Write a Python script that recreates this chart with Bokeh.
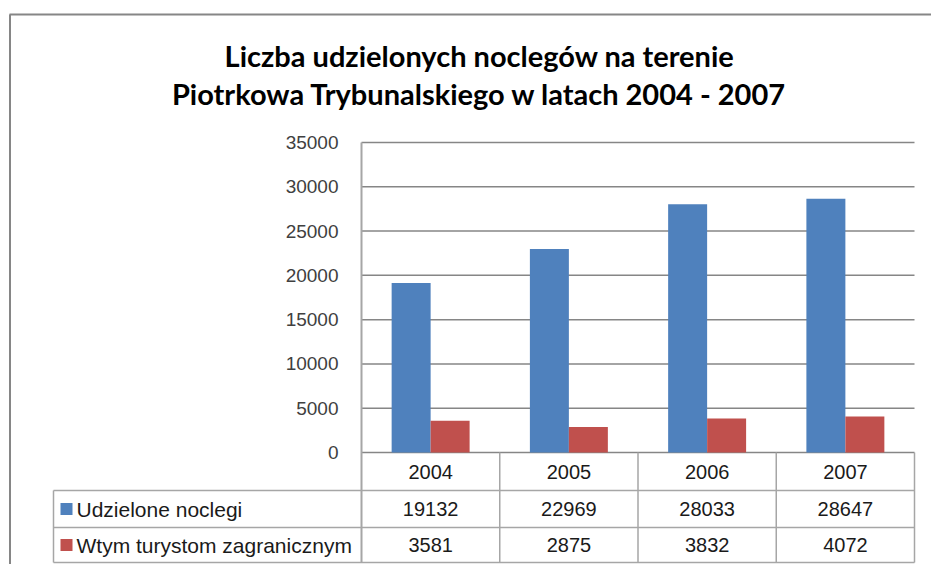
from bokeh.plotting import figure
from bokeh.models import Range1d
from bokeh.core.properties import value
from bokeh.embed import file_html
from bokeh.resources import INLINE

# ---- data ----
years = ["2004", "2005", "2006", "2007"]
series_names = ["Udzielone noclegi", "Wtym turystom zagranicznym"]
noclegi = [19132, 22969, 28033, 28647]
zagraniczni = [3581, 2875, 3832, 4072]
y_ticks = [0, 5000, 10000, 15000, 20000, 25000, 30000, 35000]
title_lines = ["Liczba udzielonych noclegów na terenie",
               "Piotrkowa Trybunalskiego w latach 2004 - 2007"]
colors = ["#4f81bd", "#c0504d"]

# ---- layout (picture pixels) ----
W, H = 931, 564
OX, OY = 0, 0
PLOT_L, PLOT_R = 361, 914
PLOT_T, PLOT_B = 142, 452
Y_MAX = y_ticks[-1]
ROWS_PX = [452, 490, 527, 562]
TABLE_L = 53

n = len(years)
XS = (PLOT_R - PLOT_L) / n
YS = Y_MAX / (PLOT_B - PLOT_T)


def dx(px):
    return -0.5 + (px - PLOT_L) / XS


def dy(py):
    return (PLOT_B - py) * YS


p = figure(width=W, height=H,
           x_range=Range1d(dx(OX), dx(OX + W)),
           y_range=Range1d(dy(OY + H), dy(OY)),
           min_border=0, x_axis_location=None, y_axis_location=None,
           toolbar_location=None, output_backend="svg",
           outline_line_color=None,
           background_fill_color="white", border_fill_color="white")
for g in p.grid:
    g.visible = False

GRID = "#868686"
TBL = "#a6a6a6"
NUM_FONT = value("Liberation Sans")
NUM_SIZE = "20px"

# outer chart border
p.segment(x0=[dx(9.5)], y0=[dy(14)], x1=[dx(9.5)], y1=[dy(OY + H)],
          line_color=GRID, line_width=2)
p.segment(x0=[dx(9)], y0=[dy(14)], x1=[dx(OX + W)], y1=[dy(14)],
          line_color=GRID, line_width=2)

# title
for i, t in enumerate(title_lines):
    p.text(x=[dx(479)], y=[dy(55 + 37.5 * i)], text=[t],
           text_font=value("Lato"), text_font_style="bold",
           text_font_size="29px", text_color="#000000",
           text_align="center", text_baseline="middle")

# gridlines
p.segment(x0=[-0.5] * len(y_ticks), x1=[n - 0.5] * len(y_ticks),
          y0=y_ticks, y1=y_ticks, line_color=GRID, line_width=1.5)

# tick labels
p.text(x=[-0.5] * len(y_ticks), y=y_ticks, text=[str(t) for t in y_ticks],
       x_offset=-23, text_align="right", text_baseline="middle",
       text_font=NUM_FONT, text_font_size="19px", text_color="#404040")

# bars
BW = 0.282
xs = list(range(n))
p.vbar(x=[i - BW / 2 for i in xs], top=noclegi, width=BW, bottom=0,
       fill_color=colors[0], line_color=None)
p.vbar(x=[i + BW / 2 for i in xs], top=zagraniczni, width=BW, bottom=0,
       fill_color=colors[1], line_color=None)

# data table
y_rows = [dy(r) for r in ROWS_PX]
p.segment(x0=[-0.5], y0=[Y_MAX], x1=[-0.5], y1=[y_rows[-1]],
          line_color=TBL, line_width=2)
p.segment(x0=[i + 0.5 for i in xs], y0=[y_rows[0]] * n,
          x1=[i + 0.5 for i in xs], y1=[y_rows[-1]] * n,
          line_color=TBL, line_width=1.5)
p.segment(x0=[dx(TABLE_L)], y0=[y_rows[1]], x1=[dx(TABLE_L)], y1=[y_rows[-1]],
          line_color=TBL, line_width=1.5)
p.segment(x0=[dx(TABLE_L)] * 3, x1=[n - 0.5] * 3, y0=y_rows[1:], y1=y_rows[1:],
          line_color=TBL, line_width=1.5)

mid = [(y_rows[k] + y_rows[k + 1]) / 2 for k in range(3)]
p.text(x=xs, y=[mid[0]] * n, text=years, text_align="center",
       text_baseline="middle", text_font=NUM_FONT, text_font_size=NUM_SIZE,
       text_color="#1a1a1a")
for k, vals in enumerate([noclegi, zagraniczni]):
    p.text(x=xs, y=[mid[k + 1]] * n, text=[str(v) for v in vals],
           text_align="center", text_baseline="middle", text_font=NUM_FONT,
           text_font_size=NUM_SIZE, text_color="#1a1a1a")
    p.scatter(x=[dx(66)], y=[mid[k + 1]], marker="square", size=12,
              fill_color=colors[k], line_color=None)
    p.text(x=[dx(76)], y=[mid[k + 1]], text=[series_names[k]],
           text_align="left", text_baseline="middle", text_font=NUM_FONT,
           text_font_size="21px", text_color="#1a1a1a")

open("out.html", "w").write(file_html(p, INLINE))
